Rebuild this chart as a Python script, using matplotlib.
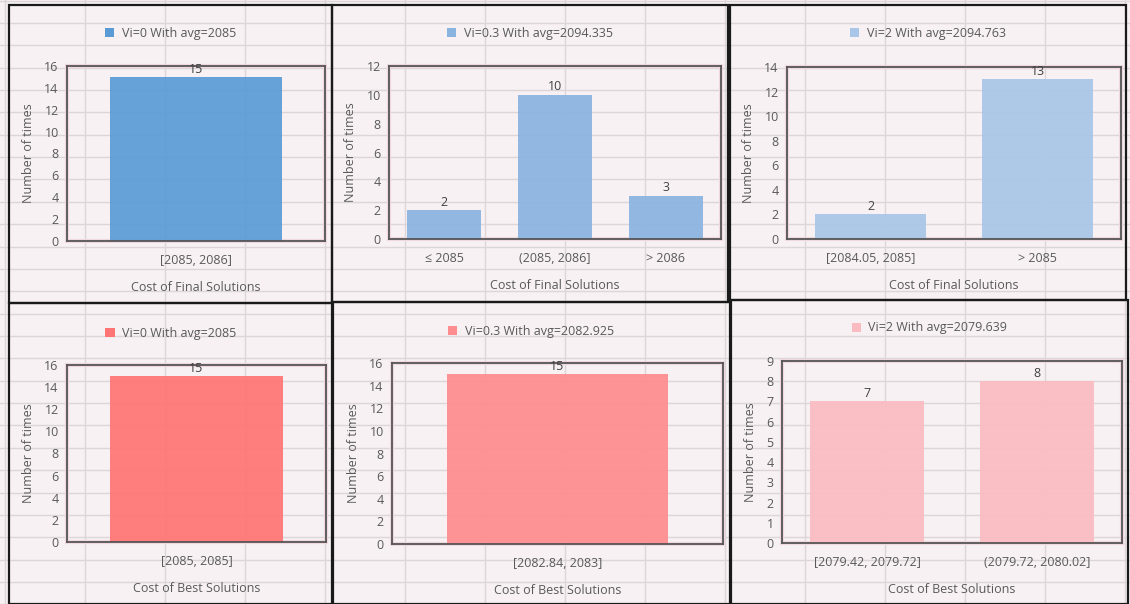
import matplotlib
matplotlib.use("Agg")
import matplotlib.pyplot as plt
from matplotlib.patches import Rectangle, Patch
import numpy as np

plt.rcParams['font.family'] = ['Open Sans', 'DejaVu Sans']

# ---------------- data ----------------
legend_labels = [
    "Vi=0 With avg=2085",
    "Vi=0.3 With avg=2094.335",
    "Vi=2 With avg=2094.763",
    "Vi=0 With avg=2085",
    "Vi=0.3 With avg=2082.925",
    "Vi=2 With avg=2079.639",
]
categories = [
    ["[2085, 2086]"],
    ["\u2264 2085", "(2085, 2086]", "> 2086"],
    ["[2084.05, 2085]", "> 2085"],
    ["[2085, 2085]"],
    ["[2082.84, 2083]"],
    ["[2079.42, 2079.72]", "(2079.72, 2080.02]"],
]
values = [
    [15],
    [2, 10, 3],
    [2, 13],
    [15],
    [15],
    [7, 8],
]
x_titles = ["Cost of Final Solutions"] * 3 + ["Cost of Best Solutions"] * 3
y_max = [16, 12, 14, 16, 16, 9]
y_step = [2, 2, 2, 2, 2, 1]

# ---------------- style ----------------
bar_colors = ["#5b9bd5", "#8ab4e0", "#a9c6e8", "#ff7474", "#ff8c8f", "#fbbcc1"]
W, H = 1130, 604
bg = "#f7f1f3"
gridc = "#dcd6d8"
textc = "#595959"
fs = 9

# panel frames (left, top, right, bottom) in pixels
frames = [(9, 5, 332, 303), (332, 5, 728, 302), (730, 5, 1126, 300),
          (9, 303, 333, 604), (332, 302, 730, 604), (731, 300, 1128, 604)]
# plot areas (left, top, right, bottom)
areas = [(67, 66, 325, 241), (389, 66, 721, 239), (787, 67, 1121, 239),
         (67, 365, 326, 542), (392, 363, 723, 544), (782, 361, 1122, 543)]
legend_y = [33, 33, 33, 333, 331, 328]

fig = plt.figure(figsize=(W / 100, H / 100), dpi=100)
fig.patch.set_facecolor(bg)

# spreadsheet background
bgax = fig.add_axes([0, 0, 1, 1])
bgax.set_xlim(0, W)
bgax.set_ylim(H, 0)
bgax.axis("off")
for gx in np.arange(5, W + 1, 80):
    bgax.axvline(gx, color=gridc, lw=1, zorder=0)
for gy in np.arange(0.6, H + 1, 22.36):
    bgax.axhline(gy, color=gridc, lw=1, zorder=0)
for (l, t, r, b) in frames:
    bgax.add_patch(Rectangle((l, t), r - l, b - t, fill=False,
                             edgecolor="#1a1a1a", lw=1.6, zorder=2))

for i in range(6):
    l, t, r, b = areas[i]
    ax = fig.add_axes([l / W, 1 - b / H, (r - l) / W, (b - t) / H])
    ax.set_facecolor("none")
    n = len(categories[i])
    xs = np.arange(n)
    ax.bar(xs, values[i], width=0.67, color=bar_colors[i], alpha=0.93, zorder=3,
           label=legend_labels[i])
    ax.set_xlim(-0.5, n - 0.5)
    ax.set_ylim(0, y_max[i])
    ax.set_yticks(np.arange(0, y_max[i] + 0.1, y_step[i]))
    ax.set_xticks(xs)
    ax.set_xticklabels(categories[i])
    ax.tick_params(length=0, colors=textc, labelsize=fs)
    ax.tick_params(axis="x", pad=9.5)
    ax.tick_params(axis="y", pad=6)
    for s in ax.spines.values():
        s.set_color("#555555")
        s.set_linewidth(1.3)
        s.set_zorder(5)
    ax.add_patch(Rectangle((0, 0), 1, 1, transform=ax.transAxes, fill=False,
                           edgecolor="#f0d9de", lw=3, zorder=1, clip_on=False))
    for xv, v in zip(xs, values[i]):
        ax.annotate(str(v), (xv, v), xytext=(0, 1.0), textcoords="offset points",
                    ha="center", va="bottom", fontsize=fs, color="#404040",
                    zorder=6, annotation_clip=False)
    ax.set_ylabel("Number of times", fontsize=fs, color=textc, labelpad=7)
    ax.set_xlabel(x_titles[i], fontsize=fs, color=textc, labelpad=10)
    fl, ft, fr, fb = frames[i]
    cx = (fl + fr) / 2
    leg = ax.legend(handles=[Patch(facecolor=bar_colors[i], label=legend_labels[i])],
                    loc="center", bbox_to_anchor=(cx / W, 1 - legend_y[i] / H),
                    bbox_transform=fig.transFigure, frameon=False, fontsize=fs,
                    handlelength=0.75, handleheight=0.75, handletextpad=0.6,
                    borderpad=0)
    for txt in leg.get_texts():
        txt.set_color(textc)

fig.savefig("out.png", dpi=100, facecolor=bg)
